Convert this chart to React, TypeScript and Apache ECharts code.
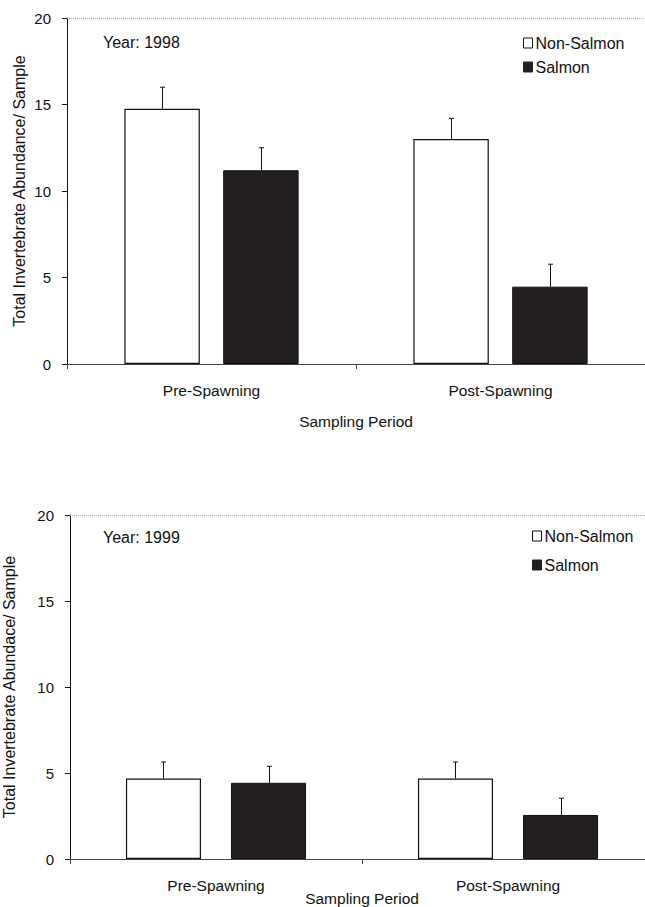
import React, { useEffect, useRef } from "react";
import * as echarts from "echarts";

const categories = ["Pre-Spawning", "Post-Spawning"];
const yTicks = [0, 5, 10, 15, 20];

const nonSalmon1998 = [14.75, 13.0];
const nonSalmonErr1998 = [1.25, 1.2];
const salmon1998 = [11.2, 4.47];
const salmonErr1998 = [1.3, 1.3];

const nonSalmon1999 = [4.68, 4.68];
const nonSalmonErr1999 = [0.96, 0.96];
const salmon1999 = [4.43, 2.56];
const salmonErr1999 = [0.96, 0.97];

const FONT = "'Liberation Sans', Arial, sans-serif";

function errSeries(grid: number, vals: number[], errs: number[], side: number, offFrac: number) {
  return {
    type: "custom",
    xAxisIndex: grid,
    yAxisIndex: grid,
    z: 5,
    silent: true,
    data: vals.map((v, i) => [i, v, errs[i]]),
    renderItem: (params: any, api: any) => {
      const cat = api.value(0);
      const v = api.value(1);
      const e = api.value(2);
      const w = api.size([1, 0])[0];
      const p0 = api.coord([cat, v]);
      const p1 = api.coord([cat, v + e]);
      const x = Math.round(p0[0] + side * w * offFrac) + 0.5;
      return {
        type: "group",
        children: [
          { type: "line", shape: { x1: x, y1: p0[1], x2: x, y2: p1[1] }, style: { stroke: "#111", lineWidth: 1 } },
          { type: "line", shape: { x1: x - 2.5, y1: p1[1], x2: x + 2.5, y2: p1[1] }, style: { stroke: "#111", lineWidth: 1 } },
        ],
      };
    },
  };
}

export default function App() {
  const ref = useRef<HTMLDivElement>(null);
  useEffect(() => {
    document.body.style.margin = "0";
    const chart = echarts.init(ref.current!, null, { renderer: "svg" });
    const grids = [
      { left: 67, top: 18, width: 578, height: 346, outerBoundsMode: "none", containLabel: false },
      { left: 70, top: 515, width: 584, height: 344, outerBoundsMode: "none", containLabel: false },
    ];
    const yTitles = ["Total Invertebrate Abundance/ Sample", "Total Invertebrate Abundace/ Sample"];
    const nameGaps = [40, 53];
    const xNameGaps = [49, 31];
    const barW = ["26.1%", "25.7%"];
    const barG = ["31%", "40%"];
    const offs = [0.1713, 0.18];
    const ns = [nonSalmon1998, nonSalmon1999];
    const nsE = [nonSalmonErr1998, nonSalmonErr1999];
    const sa = [salmon1998, salmon1999];
    const saE = [salmonErr1998, salmonErr1999];

    const series: any[] = [];
    [0, 1].forEach((g) => {
      series.push({
        name: "Non-Salmon",
        type: "bar",
        xAxisIndex: g,
        yAxisIndex: g,
        data: ns[g],
        barWidth: barW[g],
        barGap: barG[g],
        itemStyle: { color: "#ffffff", borderColor: "#111", borderWidth: 1.2 },
        markLine: {
          silent: true,
          symbol: "none",
          label: { show: false },
          lineStyle: { color: "#aaa", type: "dotted", width: 1 },
          data: [{ yAxis: 20 }],
        },
      });
      series.push({
        name: "Salmon",
        type: "bar",
        xAxisIndex: g,
        yAxisIndex: g,
        data: sa[g],
        barWidth: barW[g],
        barGap: barG[g],
        itemStyle: { color: "#231f20", borderColor: "#111", borderWidth: 1 },
      });
      series.push(errSeries(g, ns[g], nsE[g], -1, offs[g]));
      series.push(errSeries(g, sa[g], saE[g], 1, offs[g]));
    });

    const legendData = [
      { name: "Non-Salmon", itemStyle: { color: "#fff", borderColor: "#111", borderWidth: 1 } },
      { name: "Salmon", itemStyle: { color: "#231f20", borderColor: "#231f20", borderWidth: 1 } },
    ];
    const legendTops = [30, 523];
    const legendLefts = [518, 527];
    const legendGaps = [8, 13];

    chart.setOption({
      animation: false,
      textStyle: { fontFamily: FONT },
      grid: grids,
      legend: [0, 1].map((g) => ({
        orient: "vertical",
        left: legendLefts[g],
        top: legendTops[g],
        icon: "rect",
        itemWidth: 9,
        itemHeight: 10,
        itemGap: legendGaps[g],
        selectedMode: false,
        textStyle: { fontFamily: FONT, fontSize: 16, color: "#111", padding: [0, 0, 0, -2] },
        data: legendData,
      })),
      xAxis: [0, 1].map((g) => ({
        type: "category",
        gridIndex: g,
        data: categories,
        name: "Sampling Period",
        nameLocation: "middle",
        nameGap: xNameGaps[g],
        nameMoveOverlap: false,
        nameTextStyle: { fontFamily: FONT, fontSize: 15.5, color: "#111" },
        axisLine: { lineStyle: { color: "#444", width: 1 } },
        axisTick: { show: true, length: 5, lineStyle: { color: "#444" } },
        axisLabel: { fontFamily: FONT, fontSize: 15.5, color: "#111", margin: 18 },
      })),
      yAxis: [0, 1].map((g) => ({
        type: "value",
        gridIndex: g,
        min: yTicks[0],
        max: yTicks[yTicks.length - 1],
        interval: 5,
        name: yTitles[g],
        nameLocation: "middle",
        nameGap: nameGaps[g],
        nameMoveOverlap: false,
        nameTextStyle: { fontFamily: FONT, fontSize: 16, color: "#111" },
        axisLine: { show: true, lineStyle: { color: "#111", width: 1 } },
        axisTick: { show: true, length: 5, lineStyle: { color: "#111" } },
        axisLabel: { fontFamily: FONT, fontSize: 15, color: "#111", margin: 16 },
        splitLine: { show: false },
      })),
      graphic: [
        { type: "text", left: 103, top: 34, style: { text: "Year: 1998", font: `16px ${FONT}`, fill: "#111" } },
        { type: "text", left: 103, top: 529, style: { text: "Year: 1999", font: `16px ${FONT}`, fill: "#111" } },
      ],
      series,
    });
    return () => chart.dispose();
  }, []);
  return <div ref={ref} style={{ width: 645, height: 907 }} />;
}
